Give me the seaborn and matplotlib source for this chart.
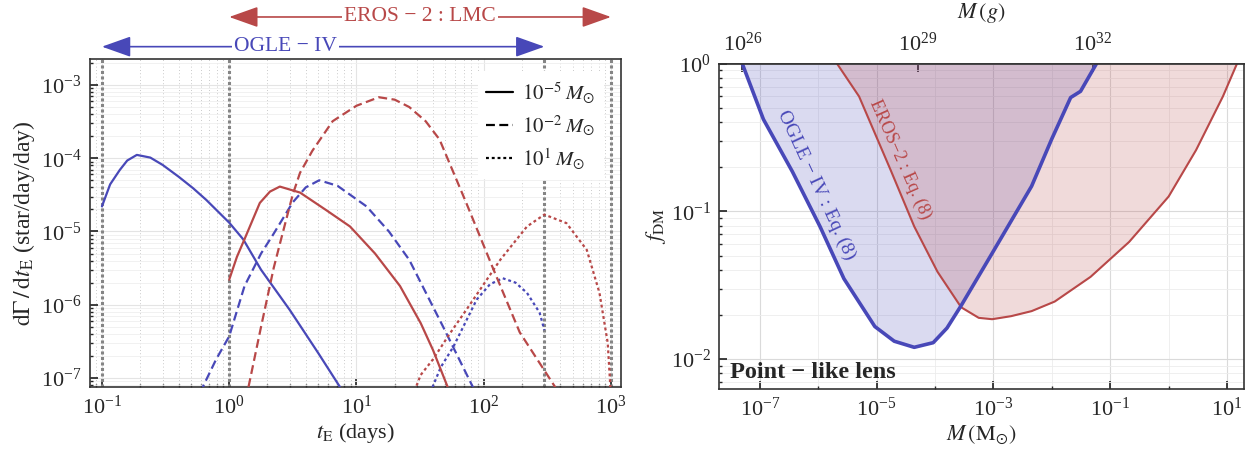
import numpy as np
import pandas as pd
import matplotlib.pyplot as plt
import matplotlib.ticker as mticker
import matplotlib.transforms as mtransforms
import seaborn as sns

# ---- left panel: event rate vs Einstein time ----
t_ogle_m5 = [0.100, 0.116, 0.138, 0.158, 0.188, 0.24, 0.30, 0.40, 0.52, 0.66, 1.0, 1.29, 1.78, 2.99, 5.0, 7.4, 8.2]
r_ogle_m5 = [2.2e-5, 4.4e-5, 6.9e-5, 9.3e-5, 1.11e-4, 1.02e-4, 8.1e-5, 5.6e-5, 3.9e-5, 2.7e-5, 1.32e-5, 7.8e-6, 3.0e-6, 8.5e-7, 2.2e-7, 7.6e-8, 5.0e-8]

t_eros_m5 = [1.0, 1.15, 1.33, 1.74, 2.09, 2.5, 3.6, 5.8, 8.9, 14, 22, 32, 40, 52, 56]
r_eros_m5 = [2.2e-6, 4.5e-6, 8.1e-6, 2.45e-5, 3.5e-5, 4.1e-5, 3.4e-5, 1.95e-5, 1.17e-5, 5.0e-6, 1.8e-6, 5.6e-7, 2.4e-7, 7.6e-8, 5.0e-8]

t_ogle_m2 = [0.59, 0.79, 1.0, 1.32, 1.78, 2.2, 3.16, 4.0, 5.1, 7.1, 12, 18, 26, 48, 82, 89]
r_ogle_m2 = [6.3e-8, 1.8e-7, 3.7e-7, 1.8e-6, 5.0e-6, 8.9e-6, 2.5e-5, 4.0e-5, 5.0e-5, 4.2e-5, 2.2e-5, 1.0e-5, 4.1e-6, 5.0e-7, 7.6e-8, 5.6e-8]

t_eros_m2 = [1.35, 1.78, 2.24, 2.57, 3.16, 3.6, 4.5, 6.5, 10, 15, 20, 26, 35, 45, 73, 117, 192, 363, 400]
r_eros_m2 = [5.0e-8, 5.0e-7, 3.2e-6, 8.1e-6, 3.2e-5, 6.3e-5, 1.26e-4, 3.2e-4, 5.2e-4, 6.8e-4, 6.3e-4, 5.0e-4, 3.2e-4, 1.8e-4, 2.45e-5, 3.3e-6, 4.2e-7, 7.6e-8, 5.6e-8]

t_ogle_p1 = [38, 46, 58, 88, 112, 141, 178, 219, 275, 300]
r_ogle_p1 = [6.3e-8, 1.4e-7, 2.7e-7, 1.17e-6, 1.9e-6, 2.3e-6, 2.0e-6, 1.45e-6, 7.8e-7, 4.5e-7]

t_eros_p1 = [27.5, 32, 40, 54, 73, 100, 135, 219, 300, 447, 646, 813, 944, 1000]
r_eros_p1 = [5.6e-8, 1.1e-7, 1.8e-7, 4.0e-7, 8.5e-7, 1.9e-6, 4.1e-6, 1.17e-5, 1.7e-5, 1.3e-5, 5.6e-6, 1.45e-6, 3.0e-7, 5.6e-8]

survey_edges = [0.1, 1, 300, 1000]

# ---- right panel: f_DM constraints ----
M_ogle = [5.0e-8, 1.15e-7, 3.6e-7, 1.07e-6, 2.75e-6, 9.3e-6, 2.0e-5, 4.4e-5, 9.3e-5, 1.6e-4, 2.8e-4, 9.5e-4, 4.5e-3, 1.0e-2, 2.1e-2, 3.1e-2, 5.8e-2]
f_ogle = [1.0, 0.42, 0.186, 0.079, 0.035, 0.0166, 0.0132, 0.012, 0.0129, 0.0162, 0.023, 0.052, 0.148, 0.31, 0.59, 0.65, 1.0]

M_eros = [2.1e-6, 5.0e-6, 1.74e-5, 4.4e-5, 1.1e-4, 2.8e-4, 5.6e-4, 9.5e-4, 2.0e-3, 4.5e-3, 1.12e-2, 4.6e-2, 0.21, 1.0, 2.95, 8.5, 14.8]
f_eros = [1.0, 0.60, 0.19, 0.079, 0.039, 0.0224, 0.019, 0.0186, 0.0195, 0.0211, 0.0245, 0.036, 0.062, 0.126, 0.26, 0.60, 1.0]

MSUN_G = 1.989e33
gram_ticks = [1e26, 1e29, 1e32]

BLUE = '#4848b8'
RED = '#b84848'

sns.set_theme(style='ticks')
plt.rcParams['font.family'] = ['Liberation Serif', 'DejaVu Serif']
plt.rcParams['mathtext.fontset'] = 'stix'
plt.rcParams['axes.edgecolor'] = '#333333'
plt.rcParams['axes.linewidth'] = 1.2

rows = []
for survey, mass, t, r in [('OGLE', 'm5', t_ogle_m5, r_ogle_m5), ('EROS', 'm5', t_eros_m5, r_eros_m5),
                           ('OGLE', 'm2', t_ogle_m2, r_ogle_m2), ('EROS', 'm2', t_eros_m2, r_eros_m2),
                           ('OGLE', 'p1', t_ogle_p1, r_ogle_p1), ('EROS', 'p1', t_eros_p1, r_eros_p1)]:
    rows.append(pd.DataFrame({'tE': t, 'rate': r, 'survey': survey, 'mass': mass}))
df = pd.concat(rows, ignore_index=True)

fig = plt.figure(figsize=(12.55, 4.55), dpi=100)
ax = fig.add_axes([0.0717, 0.1495, 0.4231, 0.7209])
ax2 = fig.add_axes([0.5729, 0.1451, 0.4183, 0.7149])

### left panel ###
ax.set_xscale('log')
ax.set_yscale('log')
for x in survey_edges:
    ax.axvline(x, color='#858585', lw=2.2, ls=(0, (1, 0.8)), zorder=1.5)

dash_map = {'m5': '', 'm2': (4, 2), 'p1': (1.3, 1.3)}
sns.lineplot(data=df, x='tE', y='rate', hue='survey', style='mass', ax=ax,
             palette={'OGLE': BLUE, 'EROS': RED}, dashes=dash_map, lw=1.6,
             legend=False, zorder=3)

ax.set_xlim(10**-1.094, 10**3.079)
ax.set_ylim(10**-7.123, 10**-2.645)
ax.grid(True, which='major', color='#e4e4e4', lw=0.8)
ax.grid(True, which='minor', axis='x', color='#b8b8b8', lw=0.6, ls=(0, (1, 3)))
ax.grid(True, which='minor', axis='y', color='#efefef', lw=0.6)
ax.yaxis.set_major_locator(mticker.LogLocator(base=10, numticks=12))
ax.tick_params(which='both', direction='in', labelsize=16, pad=6)
ax.tick_params(which='minor', length=2)
ax.set_xlabel(r'$t_{\rm E}$ (days)', fontsize=16, labelpad=2)
ax.set_ylabel(r'$\mathrm{d}\Gamma\,/\,\mathrm{d}t_{\rm E}$ (star/day/day)', fontsize=17, labelpad=3)

handles = [plt.Line2D([], [], color='black', lw=1.6, ls='-'),
           plt.Line2D([], [], color='black', lw=1.6, dashes=(4, 2)),
           plt.Line2D([], [], color='black', lw=1.6, dashes=(1.3, 1.3))]
labels = [r'$10^{-5}\;M_{\odot}$', r'$10^{-2}\;M_{\odot}$', r'$10^{1}\;M_{\odot}$']
leg = ax.legend(handles, labels, loc='upper right', bbox_to_anchor=(0.975, 0.975),
                fontsize=15, frameon=True, handlelength=1.3, handletextpad=0.4,
                borderaxespad=0.2, labelspacing=0.4, fancybox=False)
leg.get_frame().set_edgecolor('none')
leg.get_frame().set_facecolor('white')
leg.get_frame().set_alpha(1)

trans = mtransforms.blended_transform_factory(ax.transData, ax.transAxes)
for x0, x1, xt, yy, txt, col in [(1, 1000, 31.6, 1.128, 'EROS − 2 : LMC', RED),
                                  (0.1, 300, 2.75, 1.0375, 'OGLE − IV', BLUE)]:
    ax.annotate('', xy=(x1, yy), xytext=(x0, yy), xycoords=trans, textcoords=trans,
                arrowprops=dict(arrowstyle='<|-|>,head_length=0.9,head_width=0.32',
                                color=col, lw=1.2, shrinkA=0, shrinkB=0, mutation_scale=20),
                annotation_clip=False)
    ax.text(xt, yy, txt, transform=trans, ha='center', va='center', color=col, fontsize=15.5,
            bbox=dict(fc='white', ec='none', pad=1.5), clip_on=False)

### right panel ###
ax2.set_xscale('log')
ax2.set_yscale('log')
ax2.fill_between(M_ogle, f_ogle, 1, color=BLUE, alpha=0.2, lw=0)
ax2.fill_between(M_eros, f_eros, 1, color=RED, alpha=0.2, lw=0)
sns.lineplot(x=M_eros, y=f_eros, ax=ax2, color=RED, lw=1.5, sort=False)
sns.lineplot(x=M_ogle, y=f_ogle, ax=ax2, color=BLUE, lw=2.6, sort=False)

ax2.set_xlim(10**-7.70, 10**1.29)
ax2.set_ylim(10**-2.203, 1)
ax2.xaxis.set_major_locator(mticker.FixedLocator([1e-7, 1e-5, 1e-3, 1e-1, 1e1]))
ax2.xaxis.set_minor_locator(mticker.FixedLocator([1e-6, 1e-4, 1e-2, 1e0]))
ax2.xaxis.set_minor_formatter(mticker.NullFormatter())
ax2.yaxis.set_major_locator(mticker.FixedLocator([1e-2, 1e-1, 1e0]))
ax2.yaxis.set_minor_locator(mticker.LogLocator(base=10, subs=np.arange(2, 10), numticks=12))
ax2.yaxis.set_minor_formatter(mticker.NullFormatter())
ax2.grid(True, which='major', color='#dadada', lw=0.8)
ax2.grid(True, which='minor', color='#ececec', lw=0.6)
ax2.tick_params(which='both', direction='in', labelsize=16, pad=6)
ax2.tick_params(which='minor', length=2)
ax2.set_xlabel(r'$M\,(\mathrm{M}_{\odot})$', fontsize=16, labelpad=2)
ax2.set_ylabel(r'$f_{\rm DM}$', fontsize=16, labelpad=2)

secax = ax2.secondary_xaxis('top', functions=(lambda m: np.asarray(m) * MSUN_G,
                                              lambda g: np.asarray(g) / MSUN_G))
secax.set_xticks(gram_ticks)
secax.xaxis.set_minor_locator(mticker.NullLocator())
secax.tick_params(direction='in', labelsize=16, pad=6)
secax.set_xlabel(r'$M\,(g)$', fontsize=16, labelpad=10)

ax2.text(9.2e-7, 0.15, 'OGLE − IV : Eq. (8)', color=BLUE, fontsize=14, rotation=-65,
         rotation_mode='anchor', ha='center', va='center')
ax2.text(2.5e-5, 0.225, 'EROS−2 : Eq. (8)', color=RED, fontsize=13, rotation=-66,
         rotation_mode='anchor', ha='center', va='center')
ax2.text(0.021, 0.035, 'Point − like lens', transform=ax2.transAxes, fontsize=17.5,
         fontweight='bold', ha='left', va='baseline')

fig.savefig('out.png', dpi=100)
